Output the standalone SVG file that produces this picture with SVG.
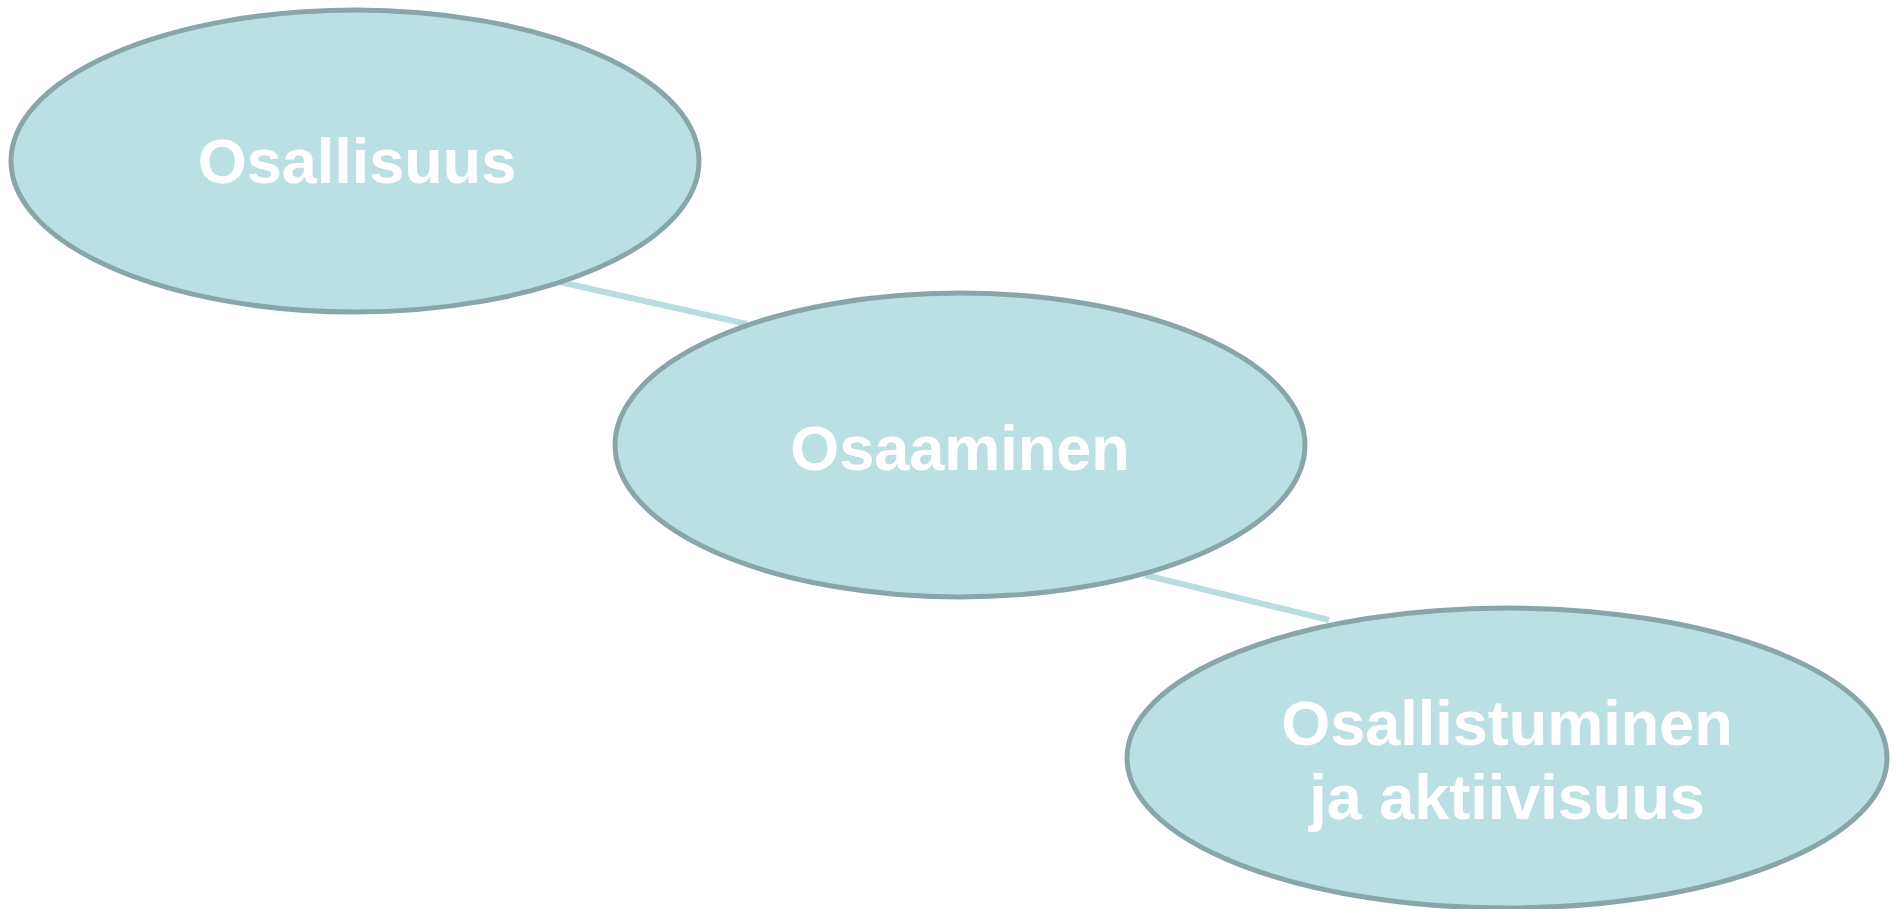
<svg xmlns="http://www.w3.org/2000/svg" width="1896" height="909" viewBox="0 0 1896 909">
<style>
.node{fill:#bbe0e3;stroke:#88a6a9;stroke-width:5}
.lbl{font-family:"Liberation Sans",Arial,sans-serif;font-weight:bold;font-size:63px;fill:#ffffff;text-anchor:middle}
.conn{stroke:#b7dde1;stroke-width:6;stroke-linecap:butt;fill:none}
</style>
<rect width="1896" height="909" fill="#ffffff"/>
<g id="connectors">
<line class="conn" x1="560" y1="282" x2="747" y2="324"/>
<line class="conn" x1="1145" y1="575" x2="1329" y2="620"/>
</g>
<g id="node-osallisuus">
<ellipse class="node" cx="355" cy="161" rx="344" ry="151"/>
<text class="lbl" x="357" y="183">Osallisuus</text>
</g>
<g id="node-osaaminen">
<ellipse class="node" cx="960" cy="445" rx="345" ry="152"/>
<text class="lbl" x="960" y="470">Osaaminen</text>
</g>
<g id="node-osallistuminen">
<ellipse class="node" cx="1507" cy="758" rx="380" ry="150"/>
<text class="lbl" x="1507" y="745">Osallistuminen</text>
<text class="lbl" x="1507" y="819">ja aktiivisuus</text>
</g>
</svg>
